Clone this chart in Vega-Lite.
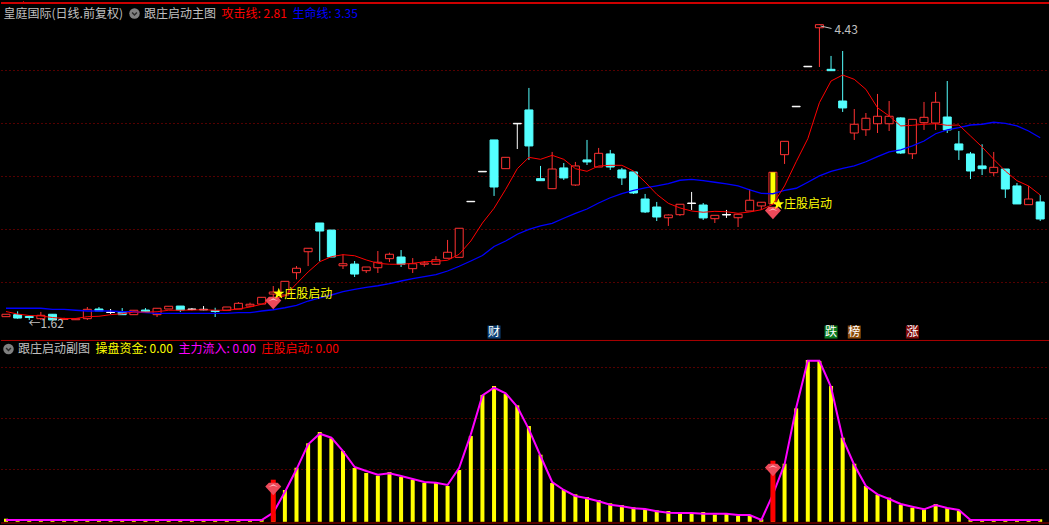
{"background":"#000000","padding":0,"spacing":0,"bounds":"flush","config":{"view":{"stroke":null},"font":"Noto Sans CJK SC"},
"datasets":{
"candles":[
{"idx":0,"open":1.651,"high":1.674,"low":1.651,"close":1.674,"kind":"up","attack":1.70,"life":1.731},
{"idx":1,"open":1.670,"high":1.702,"low":1.632,"close":1.638,"kind":"down","attack":1.676,"life":1.731},
{"idx":2,"open":1.653,"high":1.662,"low":1.62,"close":1.643,"kind":"down","attack":1.662,"life":1.731},
{"idx":3,"open":1.632,"high":1.696,"low":1.62,"close":1.664,"kind":"up","attack":1.658,"life":1.731},
{"idx":4,"open":1.674,"high":1.674,"low":1.62,"close":1.62,"kind":"down","attack":1.643,"life":1.721},
{"idx":5,"open":1.625,"high":1.641,"low":1.62,"close":1.632,"kind":"up","attack":1.634,"life":1.721},
{"idx":6,"open":1.622,"high":1.632,"low":1.62,"close":1.632,"kind":"up","attack":1.634,"life":1.712},
{"idx":7,"open":1.632,"high":1.743,"low":1.62,"close":1.721,"kind":"up","attack":1.651,"life":1.705},
{"idx":8,"open":1.724,"high":1.743,"low":1.705,"close":1.705,"kind":"down","attack":1.655,"life":1.705},
{"idx":9,"open":1.695,"high":1.724,"low":1.676,"close":1.691,"kind":"doji","attack":1.670,"life":1.705},
{"idx":10,"open":1.698,"high":1.733,"low":1.670,"close":1.670,"kind":"down","attack":1.679,"life":1.698},
{"idx":11,"open":1.670,"high":1.712,"low":1.670,"close":1.712,"kind":"up","attack":1.695,"life":1.698},
{"idx":12,"open":1.714,"high":1.733,"low":1.693,"close":1.693,"kind":"down","attack":1.695,"life":1.689},
{"idx":13,"open":1.670,"high":1.731,"low":1.648,"close":1.731,"kind":"up","attack":1.698,"life":1.683},
{"idx":14,"open":1.724,"high":1.750,"low":1.724,"close":1.750,"kind":"up","attack":1.712,"life":1.683},
{"idx":15,"open":1.752,"high":1.752,"low":1.695,"close":1.714,"kind":"down","attack":1.712,"life":1.683},
{"idx":16,"open":1.724,"high":1.733,"low":1.712,"close":1.719,"kind":"doji","attack":1.714,"life":1.683},
{"idx":17,"open":1.721,"high":1.752,"low":1.712,"close":1.716,"kind":"doji","attack":1.717,"life":1.683},
{"idx":18,"open":1.710,"high":1.736,"low":1.648,"close":1.700,"kind":"down","attack":1.712,"life":1.683},
{"idx":19,"open":1.712,"high":1.743,"low":1.712,"close":1.743,"kind":"up","attack":1.712,"life":1.683},
{"idx":20,"open":1.724,"high":1.790,"low":1.724,"close":1.778,"kind":"up","attack":1.724,"life":1.689},
{"idx":21,"open":1.752,"high":1.784,"low":1.743,"close":1.769,"kind":"up","attack":1.743,"life":1.689},
{"idx":22,"open":1.771,"high":1.835,"low":1.771,"close":1.835,"kind":"up","attack":1.769,"life":1.705},
{"idx":23,"open":1.866,"high":1.942,"low":1.838,"close":1.885,"kind":"up","attack":1.819,"life":1.717},
{"idx":24,"open":1.857,"high":1.987,"low":1.857,"close":1.987,"kind":"up","attack":1.848,"life":1.736},
{"idx":25,"open":2.069,"high":2.132,"low":2.006,"close":2.111,"kind":"up","attack":1.964,"life":1.759},
{"idx":26,"open":2.268,"high":2.301,"low":2.132,"close":2.301,"kind":"up","attack":2.076,"life":1.80},
{"idx":27,"open":2.541,"high":2.541,"low":2.177,"close":2.465,"kind":"down","attack":2.173,"life":1.829},
{"idx":28,"open":2.474,"high":2.474,"low":2.218,"close":2.218,"kind":"down","attack":2.221,"life":1.857},
{"idx":29,"open":2.135,"high":2.244,"low":2.104,"close":2.154,"kind":"up","attack":2.24,"life":1.888},
{"idx":30,"open":2.151,"high":2.18,"low":2.028,"close":2.056,"kind":"down","attack":2.23,"life":1.911},
{"idx":31,"open":2.088,"high":2.123,"low":2.066,"close":2.123,"kind":"up","attack":2.19,"life":1.93},
{"idx":32,"open":2.116,"high":2.275,"low":2.066,"close":2.168,"kind":"up","attack":2.158,"life":1.945},
{"idx":33,"open":2.202,"high":2.259,"low":2.17,"close":2.244,"kind":"up","attack":2.149,"life":1.964},
{"idx":34,"open":2.218,"high":2.284,"low":2.123,"close":2.149,"kind":"down","attack":2.149,"life":1.99},
{"idx":35,"open":2.107,"high":2.208,"low":2.066,"close":2.154,"kind":"up","attack":2.158,"life":2.012},
{"idx":36,"open":2.149,"high":2.18,"low":2.126,"close":2.161,"kind":"up","attack":2.173,"life":2.031},
{"idx":37,"open":2.149,"high":2.225,"low":2.142,"close":2.192,"kind":"up","attack":2.177,"life":2.05},
{"idx":38,"open":2.206,"high":2.38,"low":2.206,"close":2.263,"kind":"up","attack":2.187,"life":2.085},
{"idx":39,"open":2.215,"high":2.491,"low":2.215,"close":2.491,"kind":"up","attack":2.244,"life":2.13},
{"idx":40,"open":2.747,"high":2.747,"low":2.743,"close":2.743,"kind":"doji","attack":2.37,"life":2.18},
{"idx":41,"open":3.032,"high":3.032,"low":3.027,"close":3.027,"kind":"doji","attack":2.541,"life":2.232},
{"idx":42,"open":3.33,"high":3.33,"low":2.798,"close":2.883,"kind":"down","attack":2.681,"life":2.318},
{"idx":43,"open":3.057,"high":3.165,"low":3.057,"close":3.165,"kind":"up","attack":2.861,"life":2.37},
{"idx":44,"open":3.488,"high":3.488,"low":3.244,"close":3.483,"kind":"doji","attack":3.057,"life":2.434},
{"idx":45,"open":3.615,"high":3.824,"low":3.14,"close":3.273,"kind":"down","attack":3.165,"life":2.481},
{"idx":46,"open":2.962,"high":3.083,"low":2.943,"close":2.943,"kind":"down","attack":3.146,"life":2.513},
{"idx":47,"open":2.867,"high":3.216,"low":2.867,"close":3.054,"kind":"up","attack":3.184,"life":2.538},
{"idx":48,"open":3.064,"high":3.111,"low":2.95,"close":2.969,"kind":"down","attack":3.146,"life":2.586},
{"idx":49,"open":2.902,"high":3.121,"low":2.893,"close":3.083,"kind":"up","attack":3.057,"life":2.633},
{"idx":50,"open":3.14,"high":3.33,"low":3.092,"close":3.121,"kind":"down","attack":3.032,"life":2.674},
{"idx":51,"open":3.073,"high":3.254,"low":3.073,"close":3.203,"kind":"up","attack":3.083,"life":2.731},
{"idx":52,"open":3.197,"high":3.235,"low":3.045,"close":3.073,"kind":"down","attack":3.089,"life":2.781},
{"idx":53,"open":3.045,"high":3.064,"low":2.902,"close":2.969,"kind":"down","attack":3.089,"life":2.819},
{"idx":54,"open":3.026,"high":3.026,"low":2.817,"close":2.826,"kind":"down","attack":3.035,"life":2.852},
{"idx":55,"open":2.769,"high":2.817,"low":2.636,"close":2.646,"kind":"down","attack":2.93,"life":2.874},
{"idx":56,"open":2.693,"high":2.741,"low":2.56,"close":2.598,"kind":"down","attack":2.814,"life":2.893},
{"idx":57,"open":2.591,"high":2.624,"low":2.513,"close":2.617,"kind":"up","attack":2.728,"life":2.914},
{"idx":58,"open":2.62,"high":2.719,"low":2.608,"close":2.719,"kind":"up","attack":2.684,"life":2.947},
{"idx":59,"open":2.731,"high":2.836,"low":2.665,"close":2.726,"kind":"doji","attack":2.655,"life":2.956},
{"idx":60,"open":2.712,"high":2.731,"low":2.57,"close":2.589,"kind":"down","attack":2.643,"life":2.943},
{"idx":61,"open":2.582,"high":2.614,"low":2.541,"close":2.614,"kind":"up","attack":2.652,"life":2.928},
{"idx":62,"open":2.622,"high":2.665,"low":2.589,"close":2.617,"kind":"doji","attack":2.648,"life":2.912},
{"idx":63,"open":2.591,"high":2.624,"low":2.503,"close":2.624,"kind":"up","attack":2.633,"life":2.893},
{"idx":64,"open":2.655,"high":2.864,"low":2.655,"close":2.757,"kind":"up","attack":2.646,"life":2.855},
{"idx":65,"open":2.703,"high":2.738,"low":2.665,"close":2.738,"kind":"up","attack":2.667,"life":2.823},
{"idx":66,"open":2.722,"high":3.023,"low":2.722,"close":3.023,"kind":"up","attack":2.719,"life":2.819},
{"idx":67,"open":3.19,"high":3.317,"low":3.102,"close":3.317,"kind":"up","attack":2.893,"life":2.852},
{"idx":68,"open":3.65,"high":3.65,"low":3.645,"close":3.645,"kind":"doji","attack":3.123,"life":2.871},
{"idx":69,"open":4.03,"high":4.03,"low":4.025,"close":4.025,"kind":"doji","attack":3.342,"life":2.928},
{"idx":70,"open":4.396,"high":4.43,"low":4.023,"close":4.425,"kind":"up","attack":3.684,"life":2.988},
{"idx":71,"open":4.001,"high":4.128,"low":3.988,"close":3.988,"kind":"down","attack":3.89,"life":3.032},
{"idx":72,"open":3.70,"high":4.175,"low":3.596,"close":3.634,"kind":"down","attack":3.947,"life":3.061},
{"idx":73,"open":3.396,"high":3.624,"low":3.33,"close":3.479,"kind":"up","attack":3.906,"life":3.083},
{"idx":74,"open":3.427,"high":3.586,"low":3.368,"close":3.536,"kind":"up","attack":3.811,"life":3.123},
{"idx":75,"open":3.484,"high":3.767,"low":3.396,"close":3.555,"kind":"up","attack":3.636,"life":3.171},
{"idx":76,"open":3.484,"high":3.70,"low":3.415,"close":3.555,"kind":"up","attack":3.558,"life":3.216},
{"idx":77,"open":3.539,"high":3.545,"low":3.197,"close":3.206,"kind":"down","attack":3.463,"life":3.235},
{"idx":78,"open":3.199,"high":3.526,"low":3.149,"close":3.526,"kind":"up","attack":3.469,"life":3.273},
{"idx":79,"open":3.494,"high":3.691,"low":3.425,"close":3.545,"kind":"up","attack":3.479,"life":3.32},
{"idx":80,"open":3.491,"high":3.786,"low":3.425,"close":3.688,"kind":"up","attack":3.484,"life":3.389},
{"idx":81,"open":3.548,"high":3.89,"low":3.396,"close":3.425,"kind":"down","attack":3.469,"life":3.425},
{"idx":82,"open":3.292,"high":3.415,"low":3.14,"close":3.235,"kind":"down","attack":3.472,"life":3.446},
{"idx":83,"open":3.197,"high":3.216,"low":2.959,"close":3.035,"kind":"down","attack":3.368,"life":3.472},
{"idx":84,"open":3.083,"high":3.289,"low":2.997,"close":3.057,"kind":"down","attack":3.263,"life":3.479},
{"idx":85,"open":3.019,"high":3.216,"low":2.988,"close":3.07,"kind":"up","attack":3.146,"life":3.498},
{"idx":86,"open":3.054,"high":3.054,"low":2.779,"close":2.864,"kind":"down","attack":3.035,"life":3.488},
{"idx":87,"open":2.893,"high":2.921,"low":2.722,"close":2.722,"kind":"down","attack":2.943,"life":3.463},
{"idx":88,"open":2.715,"high":2.893,"low":2.715,"close":2.769,"kind":"up","attack":2.893,"life":3.415},
{"idx":89,"open":2.741,"high":2.807,"low":2.56,"close":2.579,"kind":"down","attack":2.807,"life":3.351}
],
"signals":[{"idx":23,"star":1.87,"gem":1.781,"label":"庄股启动"},{"idx":66,"star":2.72,"gem":2.636,"label":"庄股启动"}],
"badges":[{"idx":42,"label":"财","tag":"cai"},{"idx":71,"label":"跌","tag":"die"},{"idx":73,"label":"榜","tag":"bang"},{"idx":78,"label":"涨","tag":"zhang"}],
"osc":[
{"idx":0,"fund":0.51,"inflow":0},{"idx":1,"fund":0,"inflow":0},{"idx":2,"fund":0,"inflow":0},{"idx":3,"fund":0,"inflow":0},{"idx":4,"fund":0,"inflow":0},{"idx":5,"fund":0,"inflow":0},{"idx":6,"fund":0,"inflow":0},{"idx":7,"fund":0,"inflow":0},{"idx":8,"fund":0,"inflow":0},{"idx":9,"fund":0,"inflow":0},{"idx":10,"fund":0,"inflow":0},{"idx":11,"fund":0,"inflow":0},{"idx":12,"fund":0,"inflow":0},{"idx":13,"fund":0,"inflow":0},{"idx":14,"fund":0,"inflow":0},{"idx":15,"fund":0,"inflow":0},{"idx":16,"fund":0,"inflow":0},{"idx":17,"fund":0,"inflow":0},{"idx":18,"fund":0,"inflow":0},{"idx":19,"fund":0,"inflow":0},{"idx":20,"fund":0,"inflow":0},{"idx":21,"fund":0,"inflow":0},{"idx":22,"fund":0,"inflow":0},
{"idx":23,"fund":2.5,"inflow":2.86},{"idx":24,"fund":11.76,"inflow":10.98},{"idx":25,"fund":20.5,"inflow":19.88},{"idx":26,"fund":30.07,"inflow":29.68},{"idx":27,"fund":34.5,"inflow":33.83},{"idx":28,"fund":32.03,"inflow":32.27},{"idx":29,"fund":27.05,"inflow":27.05},{"idx":30,"fund":20.38,"inflow":20.78},{"idx":31,"fund":18.42,"inflow":19.21},{"idx":32,"fund":17.37,"inflow":17.76},{"idx":33,"fund":18.82,"inflow":18.31},{"idx":34,"fund":16.86,"inflow":17.25},{"idx":35,"fund":15.8,"inflow":16.07},{"idx":36,"fund":14.5,"inflow":14.9},{"idx":37,"fund":14.9,"inflow":14.62},{"idx":38,"fund":13.33,"inflow":13.72},{"idx":39,"fund":19.6,"inflow":20.5},{"idx":40,"fund":32.93,"inflow":33.6},{"idx":41,"fund":49,"inflow":48.88},{"idx":42,"fund":52.53,"inflow":51.86},{"idx":43,"fund":49.39,"inflow":49.67},{"idx":44,"fund":44.96,"inflow":44.41},{"idx":45,"fund":36.85,"inflow":35.55},{"idx":46,"fund":25.6,"inflow":25.09},{"idx":47,"fund":14.5,"inflow":14.9},{"idx":48,"fund":11.76,"inflow":11.76},{"idx":49,"fund":10.07,"inflow":9.41},{"idx":50,"fund":9.02,"inflow":8.51},{"idx":51,"fund":7.84,"inflow":7.33},{"idx":52,"fund":6.55,"inflow":6},{"idx":53,"fund":5.88,"inflow":5.37},{"idx":54,"fund":4.98,"inflow":4.59},{"idx":55,"fund":4.31,"inflow":4.31},{"idx":56,"fund":3.8,"inflow":3.41},{"idx":57,"fund":3.53,"inflow":2.86},{"idx":58,"fund":2.47,"inflow":2.74},{"idx":59,"fund":2.47,"inflow":2.74},{"idx":60,"fund":3.14,"inflow":2.47},{"idx":61,"fund":2.08,"inflow":2.47},{"idx":62,"fund":2.74,"inflow":2.47},{"idx":63,"fund":1.57,"inflow":1.96},{"idx":64,"fund":1.57,"inflow":1.96},{"idx":65,"fund":0.27,"inflow":0},{"idx":66,"fund":10,"inflow":10.07},{"idx":67,"fund":22.07,"inflow":21.83},{"idx":68,"fund":43.79,"inflow":44.02},{"idx":69,"fund":62.72,"inflow":62.45},{"idx":70,"fund":62.33,"inflow":62.45},{"idx":71,"fund":52.53,"inflow":52.14},{"idx":72,"fund":32.26,"inflow":32.03},{"idx":73,"fund":22.07,"inflow":21.56},{"idx":74,"fund":13.33,"inflow":13.33},{"idx":75,"fund":9.92,"inflow":10.07},{"idx":76,"fund":8.74,"inflow":8.23},{"idx":77,"fund":6,"inflow":6.27},{"idx":78,"fund":4.82,"inflow":5.21},{"idx":79,"fund":4.19,"inflow":4.19},{"idx":80,"fund":6.27,"inflow":5.88},{"idx":81,"fund":4.7,"inflow":4.7},{"idx":82,"fund":3.65,"inflow":3.92},{"idx":83,"fund":0,"inflow":0},{"idx":84,"fund":0,"inflow":0},{"idx":85,"fund":0,"inflow":0},{"idx":86,"fund":0,"inflow":0},{"idx":87,"fund":0,"inflow":0},{"idx":88,"fund":0,"inflow":0},{"idx":89,"fund":0.27,"inflow":0}
],
"starts":[{"idx":23,"start":15.8,"gem":12.15},{"idx":66,"start":23.25,"gem":19.6}],
"one":[{"row":1}]
},
"vconcat":[
{"width":1049,"height":339,"resolve":{"scale":{"color":"independent"}},
"layer":[
{"data":{"name":"candles"},"mark":{"type":"rule","strokeWidth":1},"encoding":{
"x":{"field":"idx","type":"quantitative","axis":null,"scale":{"domain":[-0.43,89.843],"nice":false,"zero":false,"padding":0}},
"y":{"field":"high","type":"quantitative","scale":{"domain":[1.4295,4.65],"nice":false,"zero":false},"axis":{"values":[3.9945,3.491,2.9875,2.484,1.9805],"labels":false,"ticks":false,"domain":false,"title":null,"grid":true,"gridColor":"#a80000","gridDash":[1,3],"gridWidth":1}},
"y2":{"field":"low"},
"color":{"field":"kind","type":"nominal","legend":null,"scale":{"domain":["up","down","doji"],"range":["#ff3232","#54ffff","#ffffff"]}}}},
{"data":{"name":"candles"},"mark":{"type":"bar","size":8,"strokeWidth":1,"orient":"vertical"},"encoding":{
"x":{"field":"idx","type":"quantitative"},
"y":{"field":"open","type":"quantitative"},"y2":{"field":"close"},
"fill":{"field":"kind","type":"nominal","legend":null,"scale":{"domain":["up","down","doji"],"range":["#000000","#54ffff","#ffffff"]}},
"stroke":{"field":"kind","type":"nominal","legend":null,"scale":{"domain":["up","down","doji"],"range":["#ff3232","#54ffff","#ffffff"]}}}},
{"data":{"values":[{"idx":66,"top":3.023,"bottom":2.722}]},"mark":{"type":"bar","size":5,"color":"#ffff00","orient":"vertical"},"encoding":{"x":{"field":"idx","type":"quantitative"},"y":{"field":"top","type":"quantitative"},"y2":{"field":"bottom"}}},
{"data":{"name":"candles"},"mark":{"type":"line","color":"#0000ff","strokeWidth":1.3},"encoding":{"x":{"field":"idx","type":"quantitative"},"y":{"field":"life","type":"quantitative"}}},
{"data":{"name":"candles"},"mark":{"type":"line","color":"#ff0000","strokeWidth":1},"encoding":{"x":{"field":"idx","type":"quantitative"},"y":{"field":"attack","type":"quantitative"}}},
{"data":{"name":"signals"},"mark":{"type":"point","filled":true,"size":256,"opacity":1,"color":"#ee4a5a","shape":"M -1 -0.3 L -0.55 -0.78 L 0.55 -0.78 L 1 -0.3 L 0 0.78 Z"},"encoding":{"x":{"field":"idx","type":"quantitative"},"y":{"field":"gem","type":"quantitative"}}},
{"data":{"name":"signals"},"mark":{"type":"point","filled":true,"size":256,"opacity":1,"color":"#ffb4bc","shape":"M -0.6 -0.25 L 0 -0.6 L 0.6 -0.25 L 0 -0.42 Z"},"encoding":{"x":{"field":"idx","type":"quantitative"},"y":{"field":"gem","type":"quantitative"}}},
{"data":{"name":"signals"},"mark":{"type":"point","filled":true,"size":144,"opacity":1,"color":"#ffff00","shape":"M 0 -1 L 0.24 -0.32 L 0.95 -0.31 L 0.38 0.12 L 0.59 0.81 L 0 0.4 L -0.59 0.81 L -0.38 0.12 L -0.95 -0.31 L -0.24 -0.32 Z","xOffset":5.5},"encoding":{"x":{"field":"idx","type":"quantitative"},"y":{"field":"star","type":"quantitative"}}},
{"data":{"name":"signals"},"mark":{"type":"text","align":"left","baseline":"middle","dx":11,"fontSize":12,"color":"#ffff00"},"encoding":{"x":{"field":"idx","type":"quantitative"},"y":{"field":"star","type":"quantitative"},"text":{"field":"label"}}},
{"data":{"name":"badges"},"mark":{"type":"point","filled":true,"shape":"square","size":169,"opacity":1},"encoding":{"x":{"field":"idx","type":"quantitative"},"y":{"datum":1.505},"color":{"field":"tag","type":"nominal","legend":null,"scale":{"domain":["cai","die","bang","zhang"],"range":["#0d3f73","#0a7a1e","#8a4b08","#7d0a0a"]}}}},
{"data":{"name":"badges"},"mark":{"type":"text","fontSize":12,"color":"#ffffff","baseline":"middle"},"encoding":{"x":{"field":"idx","type":"quantitative"},"y":{"datum":1.505},"text":{"field":"label"}}},
{"data":{"name":"one"},"mark":{"type":"rule","color":"#cc0000","strokeWidth":2},"encoding":{"y":{"datum":4.631}}},
{"data":{"name":"one"},"mark":{"type":"rule","color":"#cc0000","strokeWidth":1},"encoding":{"x":{"datum":1.506},"y":{"datum":4.65},"y2":{"datum":4.631}}},
{"data":{"name":"one"},"mark":{"type":"text","align":"left","baseline":"middle","fontSize":12,"color":"#c0c0c0"},"encoding":{"x":{"datum":-0.215},"y":{"datum":4.531},"text":{"value":"皇庭国际(日线.前复权)"}}},
{"data":{"name":"one"},"mark":{"type":"point","filled":true,"opacity":1,"shape":"circle","size":110,"color":"#808080"},"encoding":{"x":{"datum":11.058},"y":{"datum":4.531}}},
{"data":{"name":"one"},"mark":{"type":"point","filled":false,"opacity":1,"size":64,"strokeWidth":1.5,"color":"#2a2a2a","shape":"M -0.6 -0.25 L 0 0.35 L 0.6 -0.25"},"encoding":{"x":{"datum":11.058},"y":{"datum":4.531}}},
{"data":{"name":"one"},"mark":{"type":"text","align":"left","baseline":"middle","fontSize":12,"color":"#c0c0c0"},"encoding":{"x":{"datum":11.876},"y":{"datum":4.531},"text":{"value":"跟庄启动主图"}}},
{"data":{"name":"one"},"mark":{"type":"text","align":"left","baseline":"middle","fontSize":12,"color":"#ff0000"},"encoding":{"x":{"datum":18.546},"y":{"datum":4.531},"text":{"value":"攻击线: 2.81"}}},
{"data":{"name":"one"},"mark":{"type":"text","align":"left","baseline":"middle","fontSize":12,"color":"#0000ff"},"encoding":{"x":{"datum":24.656},"y":{"datum":4.531},"text":{"value":"生命线: 3.35"}}},
{"data":{"name":"one"},"mark":{"type":"text","align":"left","baseline":"middle","fontSize":12,"color":"#c0c0c0"},"encoding":{"x":{"datum":71.3},"y":{"datum":4.377},"text":{"value":"4.43"}}},
{"data":{"name":"one"},"mark":{"type":"rule","color":"#c0c0c0","strokeWidth":1},"encoding":{"x":{"datum":70.1},"x2":{"datum":71.04},"y":{"datum":4.4125},"y2":{"datum":4.389}}},
{"data":{"name":"one"},"mark":{"type":"text","align":"left","baseline":"middle","fontSize":12,"color":"#c0c0c0"},"encoding":{"x":{"datum":1.936},"y":{"datum":1.586},"text":{"value":"←1.62"}}}
]},
{"width":1049,"height":186,
"layer":[
{"data":{"name":"osc"},"mark":{"type":"bar","size":4,"color":"#ffff00","orient":"vertical"},"encoding":{
"x":{"field":"idx","type":"quantitative","axis":null,"scale":{"domain":[-0.43,89.843],"nice":false,"zero":false,"padding":0}},
"y":{"field":"fund","type":"quantitative","scale":{"domain":[-2.353,70.588],"nice":false,"zero":false},"axis":{"values":[20,40,60],"labels":false,"ticks":false,"domain":false,"title":null,"grid":true,"gridColor":"#a80000","gridDash":[1,3],"gridWidth":1}},
"y2":{"datum":-0.7}}},
{"data":{"name":"osc"},"mark":{"type":"line","color":"#ff00ff","strokeWidth":2},"encoding":{"x":{"field":"idx","type":"quantitative"},"y":{"field":"inflow","type":"quantitative"}}},
{"data":{"name":"starts"},"mark":{"type":"bar","size":5,"color":"#ff0000","orient":"vertical"},"encoding":{"x":{"field":"idx","type":"quantitative"},"y":{"field":"start","type":"quantitative"},"y2":{"datum":-0.7}}},
{"data":{"name":"starts"},"mark":{"type":"point","filled":true,"size":256,"opacity":1,"color":"#ee4a5a","shape":"M -1 -0.3 L -0.55 -0.78 L 0.55 -0.78 L 1 -0.3 L 0 0.78 Z"},"encoding":{"x":{"field":"idx","type":"quantitative"},"y":{"field":"gem","type":"quantitative"}}},
{"data":{"name":"starts"},"mark":{"type":"point","filled":true,"size":256,"opacity":1,"color":"#ffb4bc","shape":"M -0.6 -0.25 L 0 -0.6 L 0.6 -0.25 L 0 -0.42 Z"},"encoding":{"x":{"field":"idx","type":"quantitative"},"y":{"field":"gem","type":"quantitative"}}},
{"data":{"name":"one"},"mark":{"type":"rule","color":"#aa0000","strokeWidth":1},"encoding":{"y":{"datum":70.4}}},
{"data":{"name":"one"},"mark":{"type":"rule","color":"#aa0000","strokeWidth":1},"encoding":{"y":{"datum":-1.18}}},
{"data":{"name":"one"},"mark":{"type":"point","filled":true,"opacity":1,"shape":"circle","size":110,"color":"#808080"},"encoding":{"x":{"datum":0.215},"y":{"datum":67.03}}},
{"data":{"name":"one"},"mark":{"type":"point","filled":false,"opacity":1,"size":64,"strokeWidth":1.5,"color":"#2a2a2a","shape":"M -0.6 -0.25 L 0 0.35 L 0.6 -0.25"},"encoding":{"x":{"datum":0.215},"y":{"datum":67.03}}},
{"data":{"name":"one"},"mark":{"type":"text","align":"left","baseline":"middle","fontSize":12,"color":"#c0c0c0"},"encoding":{"x":{"datum":1.033},"y":{"datum":67.03},"text":{"value":"跟庄启动副图"}}},
{"data":{"name":"one"},"mark":{"type":"text","align":"left","baseline":"middle","fontSize":12,"color":"#ffff00"},"encoding":{"x":{"datum":7.702},"y":{"datum":67.03},"text":{"value":"操盘资金: 0.00"}}},
{"data":{"name":"one"},"mark":{"type":"text","align":"left","baseline":"middle","fontSize":12,"color":"#ff00ff"},"encoding":{"x":{"datum":14.845},"y":{"datum":67.03},"text":{"value":"主力流入: 0.00"}}},
{"data":{"name":"one"},"mark":{"type":"text","align":"left","baseline":"middle","fontSize":12,"color":"#ff0000"},"encoding":{"x":{"datum":21.988},"y":{"datum":67.03},"text":{"value":"庄股启动: 0.00"}}}
]}
]}
